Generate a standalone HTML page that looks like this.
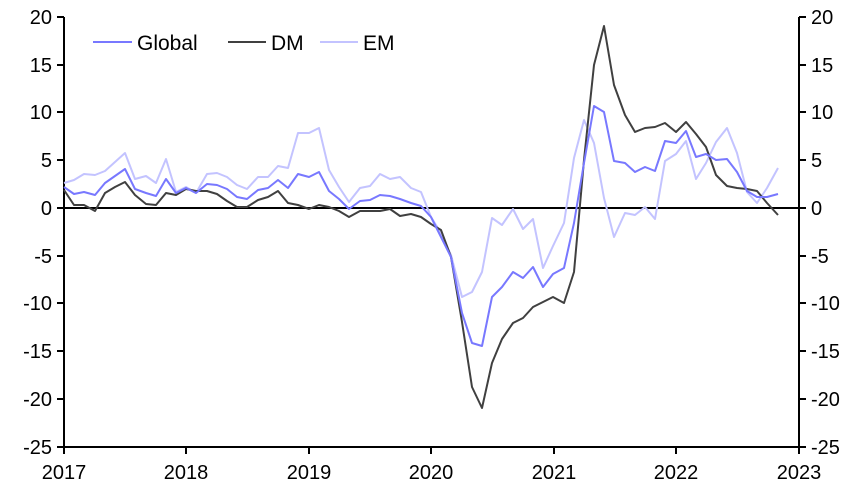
<!DOCTYPE html>
<html><head><style>body{margin:0;background:#fff}svg{display:block;font-family:"Liberation Sans",Arial,sans-serif}</style></head><body>
<svg width="868" height="490" viewBox="0 0 868 490" xmlns="http://www.w3.org/2000/svg">
<g stroke="#000" stroke-width="2" fill="none">
<line x1="64" y1="17" x2="64" y2="447"/>
<line x1="799" y1="17" x2="799" y2="447"/>
<line x1="64" y1="447" x2="799" y2="447"/>
<line x1="64" y1="208" x2="799" y2="208"/>
<path d="M57 17H64M57 65H64M57 112H64M57 160H64M57 208H64M57 256H64M57 303H64M57 351H64M57 399H64M57 447H64"/>
<path d="M799 17H806M799 65H806M799 112H806M799 160H806M799 208H806M799 256H806M799 303H806M799 351H806M799 399H806M799 447H806"/>
<path d="M64 447V454M186 447V454M309 447V454M431 447V454M554 447V454M676 447V454M799 447V454"/>
</g>
<g font-size="20" fill="#000" text-anchor="end">
<text x="52" y="24">20</text><text x="52" y="72">15</text><text x="52" y="119">10</text><text x="52" y="167">5</text><text x="52" y="215">0</text><text x="52" y="263">-5</text><text x="52" y="310">-10</text><text x="52" y="358">-15</text><text x="52" y="406">-20</text><text x="52" y="454">-25</text>
</g>
<g font-size="20" fill="#000" text-anchor="start">
<text x="811" y="24">20</text><text x="811" y="72">15</text><text x="811" y="119">10</text><text x="811" y="167">5</text><text x="811" y="215">0</text><text x="811" y="263">-5</text><text x="811" y="310">-10</text><text x="811" y="358">-15</text><text x="811" y="406">-20</text><text x="811" y="454">-25</text>
</g>
<g font-size="20" fill="#000" text-anchor="middle">
<text x="64" y="479">2017</text><text x="186" y="479">2018</text><text x="309" y="479">2019</text><text x="431" y="479">2020</text><text x="554" y="479">2021</text><text x="676" y="479">2022</text><text x="799" y="479">2023</text>
</g>
<g fill="none" stroke-width="2" stroke-linejoin="round">
<polyline stroke="#c3c3ff" points="64,183 74,180 84,174 95,175 105,171 115,162 125,153 135,179 146,176 156,183 166,159 176,192 186,187 196,193 207,174 217,173 227,177 237,185 247,189 258,177 268,177 278,166 288,168 298,133 309,133 319,128 329,170 339,187 349,202 360,188 370,186 380,174 390,179 400,177 411,188 421,192 431,217 441,233 451,255 462,297 472,292 482,272 492,218 502,225 513,209 523,229 533,219 543,268 553,246 564,223 574,158 584,120 594,143 604,198 614,237 625,213 635,215 645,207 655,219 665,161 676,154 686,141 696,179 706,163 716,142 727,128 737,153 747,192 757,203 767,188 778,168"/>
<polyline stroke="#404040" points="64,190 74,205 84,205 95,211 105,193 115,187 125,182 135,195 146,204 156,205 166,193 176,195 186,189 196,191 207,191 217,194 227,201 237,207 247,207 258,200 268,197 278,191 288,203 298,205 309,209 319,205 329,207 339,211 349,217 360,211 370,211 380,211 390,209 400,216 411,214 421,217 431,224 441,230 451,257 462,322 472,387 482,408 492,363 502,339 513,323 523,318 533,307 543,302 553,297 564,303 574,272 584,160 594,65 604,26 614,85 625,115 635,132 645,128 655,127 665,123 676,132 686,122 696,134 706,147 716,175 727,186 737,188 747,189 757,191 767,203 778,215"/>
<polyline stroke="#7878ff" points="64,187 74,194 84,192 95,195 105,183 115,176 125,169 135,189 146,193 156,196 166,179 176,193 186,188 196,193 207,184 217,185 227,189 237,197 247,199 258,190 268,188 278,180 288,188 298,174 309,177 319,172 329,191 339,199 349,209 360,201 370,200 380,195 390,196 400,199 411,203 421,206 431,217 441,237 451,257 462,313 472,343 482,346 492,297 502,287 513,272 523,278 533,267 543,287 553,274 564,268 574,223 584,163 594,106 604,112 614,161 625,163 635,172 645,167 655,171 665,141 676,143 686,131 696,157 706,154 716,160 727,159 737,172 747,191 757,197 767,197 778,194"/>
</g>
<g stroke-width="2">
<line x1="93" y1="42" x2="132" y2="42" stroke="#7878ff"/>
<line x1="228" y1="42" x2="266" y2="42" stroke="#404040"/>
<line x1="320" y1="42" x2="358" y2="42" stroke="#c3c3ff"/>
</g>
<g font-size="21" fill="#000">
<text x="137" y="50">Global</text><text x="271" y="50">DM</text><text x="363" y="50">EM</text>
</g>
</svg>
</body></html>
